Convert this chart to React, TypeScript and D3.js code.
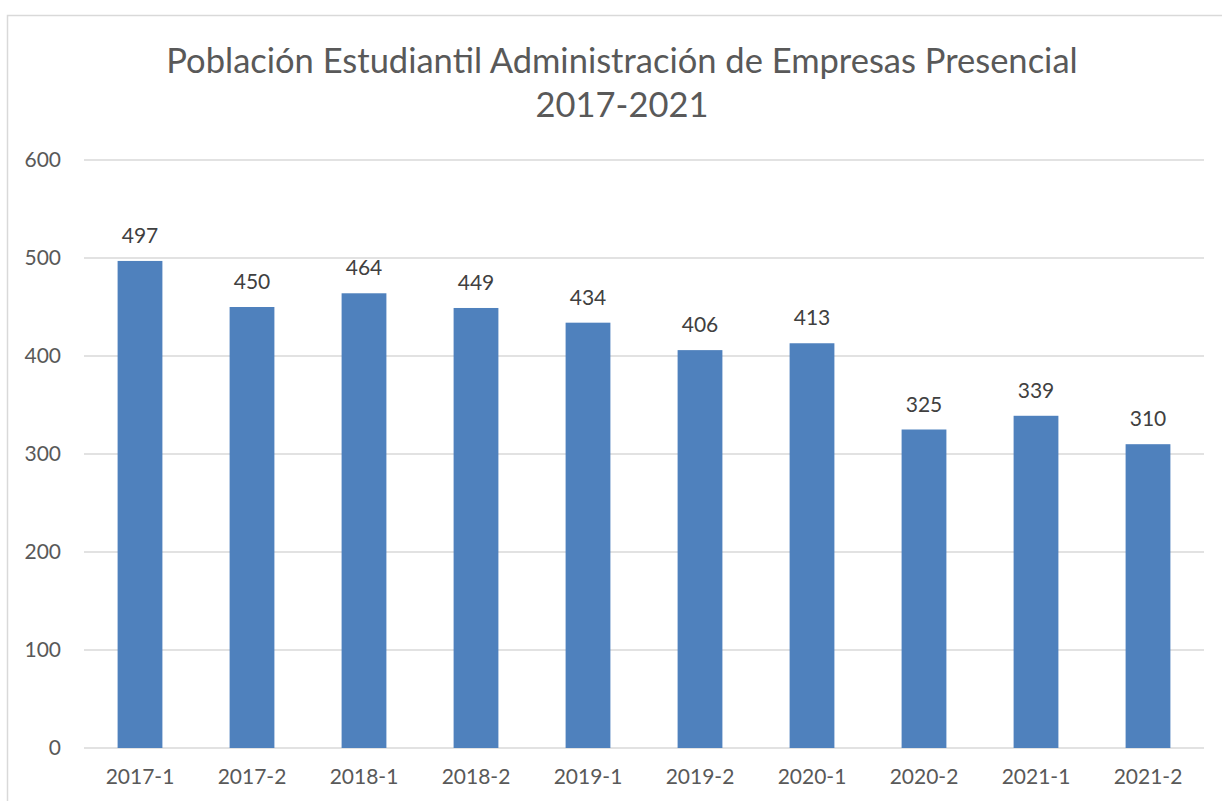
import React from "react";
import * as d3 from "d3";

const categories = ["2017-1", "2017-2", "2018-1", "2018-2", "2019-1", "2019-2", "2020-1", "2020-2", "2021-1", "2021-2"];
const values = [497, 450, 464, 449, 434, 406, 413, 325, 339, 310];
const yTicks = [0, 100, 200, 300, 400, 500, 600];
const titleLines = ["Población Estudiantil Administración de Empresas Presencial", "2017-2021"];

const W = 1222;
const H = 801;
const left = 84;
const right = 1204;
const top = 160;
const bottom = 748;
const FONT = "Lato, 'Open Sans', sans-serif";

export default function App() {
  const x = d3.scaleBand<string>().domain(categories).range([left, right]).paddingInner(0.6).paddingOuter(0.3);
  const y = d3.scaleLinear().domain([0, 600]).range([bottom, top]);
  return (
    <svg width={W} height={H} style={{ position: "absolute", left: 0, top: 0, background: "#fff" }}>
      <rect x={0} y={0} width={W} height={H} fill="#fff" />
      <rect x={7.5} y={15.5} width={W + 20} height={H + 20} fill="none" stroke="#d9d9d9" strokeWidth={1.5} />
      {titleLines.map((t, i) => (
        <text key={i} x={622} y={73 + i * 44} textAnchor="middle" fontFamily={FONT} fontSize={34.5} fill="#595959">
          {t}
        </text>
      ))}
      {yTicks.map((t) => (
        <g key={t}>
          <line x1={left} x2={right} y1={y(t)} y2={y(t)} stroke="#d9d9d9" strokeWidth={1.5} />
          <text x={61} y={y(t)} dy="0.35em" textAnchor="end" fontFamily={FONT} fontSize={21} fill="#595959">
            {t}
          </text>
        </g>
      ))}
      {categories.map((c, i) => (
        <g key={c}>
          <rect x={x(c)} y={y(values[i])} width={x.bandwidth()} height={y(0) - y(values[i])} fill="#4f81bd" />
          <text x={(x(c) as number) + x.bandwidth() / 2} y={y(values[i]) - 18} textAnchor="middle" fontFamily={FONT} fontSize={21} fill="#404040">
            {values[i]}
          </text>
          <text x={(x(c) as number) + x.bandwidth() / 2} y={784} textAnchor="middle" fontFamily={FONT} fontSize={21} fill="#595959">
            {c}
          </text>
        </g>
      ))}
    </svg>
  );
}
